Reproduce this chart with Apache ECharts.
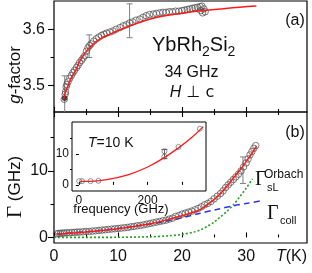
<!DOCTYPE html>
<html><head><meta charset="utf-8">
<script src="https://cdn.jsdelivr.net/npm/echarts@6/dist/echarts.min.js"></script>
<style>html,body{margin:0;padding:0;background:#fff}#c{width:312px;height:273px}</style>
</head><body><div id="c"></div>
<script>
// ---------- panel (a): g-factor vs T ----------
const gT   = [1.6,1.75,1.8,1.9,2.0,2.2,2.45,2.7,2.95,3.2,3.5,3.75,4.0,4.3,4.55,4.8,5.05,5.3,5.55,5.8,6.2,6.6,7.0,7.4,7.8,8.2,8.7,9.2,9.7,10.3,10.8,11.3,11.8,12.3,12.8,13.4,13.9,14.4,14.9,15.5,16.0,16.5,17.0,17.5,18.0,18.5,19.0,19.5,20.0,20.4,20.8,21.2,21.6,22.0,22.4,22.8,23.1,23.4,23.6,23.2,22.9];
const gVal = [3.476,3.485,3.489,3.498,3.502,3.507,3.513,3.518,3.523,3.527,3.532,3.536,3.541,3.545,3.549,3.553,3.561,3.567,3.571,3.574,3.579,3.583,3.586,3.589,3.591,3.593,3.595,3.597,3.600,3.603,3.606,3.608,3.611,3.613,3.616,3.618,3.621,3.624,3.626,3.627,3.628,3.629,3.630,3.630,3.631,3.631,3.632,3.632,3.633,3.634,3.635,3.636,3.637,3.638,3.639,3.640,3.641,3.636,3.631,3.629,3.633];
const gDarkT = [1.65];
const gDarkVal = [3.478];
const gFitT   = [1.5,2.0,2.7,3.5,4.0,5.0,5.6,7.1,8.7,10.3,12.3,14.4,16.5,19.0,21.0,23.3,26.0,29.0,31.6];
const gFitVal = [3.476,3.495,3.514,3.530,3.543,3.560,3.568,3.582,3.591,3.599,3.608,3.616,3.622,3.627,3.630,3.633,3.636,3.639,3.641];
const gErrT   = [1.67,5.5,11.8];
const gErrVal = [3.4775,3.570,3.615];
const gErrBar = [0.04,0.02,0.03];

// ---------- panel (b): linewidth vs T ----------
const wT   = [0.4,0.7,1.0,1.3,1.6,2.0,2.4,2.8,3.2,3.6,4.0,4.5,5.0,5.5,6.0,6.5,7.0,7.5,8.0,8.5,9.0,9.5,10.0,10.5,11.0,11.5,12.0,12.5,13.0,13.5,14.0,14.5,15.0,15.5,16.0,16.5,17.0,17.5,18.0,18.5,19.0,19.5,20.0,20.5,21.0,21.5,22.0,22.5,23.0,23.5,24.0,24.5,25.0,25.5,26.0,26.4,26.8,27.2,27.6,28.0,28.4,28.8,29.2,29.6,30.0,30.3,30.6,30.9,31.2,31.5];
const wVal = [0.55,0.6,0.6,0.65,0.65,0.7,0.7,0.75,0.75,0.8,0.8,0.85,0.9,0.9,0.95,1.0,1.05,1.1,1.15,1.2,1.25,1.3,1.35,1.4,1.45,1.5,1.6,1.65,1.75,1.8,1.9,2.0,2.1,2.2,2.3,2.4,2.5,2.6,2.75,2.9,3.15,3.3,3.5,3.65,3.8,3.95,4.15,4.35,4.6,4.9,5.1,5.4,5.8,6.2,6.6,7.0,7.5,7.9,8.3,8.7,9.1,9.5,10.0,10.6,11.2,11.8,12.4,12.9,13.4,13.8];
const wFitT   = [0.4,5,10,15,18,20,22,23,24,25,26,27,28,29,30,31,31.6];
const wFitVal = [0.45,0.8,1.3,2.05,2.75,3.25,3.85,4.3,4.95,5.7,6.6,7.7,8.9,10.1,11.4,12.8,13.7];
const collT   = [0.4,5,10,15,17,20,22.5,25.4,28,30,32.7];
const collVal = [0.5,0.85,1.35,2.0,2.35,2.95,3.55,4.2,4.75,5.1,5.55];
const orbT    = [0,5,10,15,18,20,22,23,24,25,26,27,28,29,30,31];
const orbVal  = [0,0,0.02,0.1,0.25,0.45,0.85,1.2,1.7,2.3,3.1,3.9,4.9,6.1,7.4,8.8];
const wErrT   = [29.5];
const wErrVal = [10.1];
const wErrBar = [2.0];

// ---------- inset: linewidth vs frequency at T=10 K ----------
const fFreq  = [1,9.4,34,57,249,249,290,352];
const fWidth = [1.2,1.2,1.2,1.3,9.2,10.9,12.3,18.2];
const fFitF  = [4,30,60,100,145,200,245,290,330,362];
const fFitW  = [1.1,1.15,1.4,2.1,3.3,5.8,8.6,12.0,15.5,18.9];
const fErrF  = [249];
const fErrW  = [10.0];
const fErrBar= [1.5];

// ---------- ticks / labels ----------
const tMajor = [0,10,20,30];
const tMinor = [5,15,25,35];
const gMajor = [3.5,3.6];
const gMinor = [3.55];
const wMajor = [0,10];
const wMinor = [5,15];
const fTicks = [0,100,200,300];
const fLabels = [0,200];
const fwMajor = [0,10];
const fwMinor = [5,15];

const SANS = 'Liberation Sans';
const SERIF = 'Liberation Serif';
const zip = (a,b) => a.map((v,i)=>[v,b[i]]);
const zip3 = (a,b,c) => a.map((v,i)=>[v,b[i],c[i]]);

function ax(grid, pos, min, max, ticks, len, inside, labels, lab) {
  return {
    type:'value', gridIndex:grid, position:pos, min:min, max:max,
    axisLine:{show:false}, splitLine:{show:false},
    axisTick:{show:true, customValues:ticks, inside:inside, length:len, lineStyle:{color:'#000', width:1.1}},
    axisLabel: labels ? Object.assign({show:true, customValues:labels, color:'#111', fontFamily:SANS, fontSize:16, margin:6}, lab||{}) : {show:false}
  };
}

function errBar(color) {
  return function(params, api) {
    const x = api.value(0), y = api.value(1), e = api.value(2);
    const t = api.coord([x, y + e]), b = api.coord([x, y - e]);
    const w = 3;
    const st = {stroke: color, lineWidth: 1};
    return {type:'group', children:[
      {type:'line', shape:{x1:t[0], y1:t[1], x2:b[0], y2:b[1]}, style:st},
      {type:'line', shape:{x1:t[0]-w, y1:t[1], x2:t[0]+w, y2:t[1]}, style:st},
      {type:'line', shape:{x1:b[0]-w, y1:b[1], x2:b[0]+w, y2:b[1]}, style:st}
    ]};
  };
}

const circ = {color:'rgba(255,255,255,0)', borderColor:'#4a4a4a', borderWidth:0.9};

const option = {
  animation:false,
  backgroundColor:'#fff',
  grid:[
    {left:54, top:1, width:253, height:111, show:true, borderColor:'#000', borderWidth:1.2, backgroundColor:'transparent'},
    {left:54, top:112, width:253, height:131, show:true, borderColor:'#000', borderWidth:1.2, backgroundColor:'transparent'},
    {left:72, top:122, width:134, height:69, show:true, borderColor:'#000', borderWidth:1, backgroundColor:'#fff'}
  ],
  xAxis:[
    ax(0,'bottom',0,39.5,tMajor,5,true,null),
    ax(0,'bottom',0,39.5,tMinor,3,true,null),
    ax(1,'bottom',0,39.5,tMajor,5,true,tMajor,{margin:6}),
    ax(1,'bottom',0,39.5,tMinor,3,true,null),
    ax(1,'top',0,39.5,tMajor,5,true,null),
    ax(1,'top',0,39.5,tMinor,3,true,null),
    ax(2,'bottom',-20,370,fTicks,3,true,fLabels,{fontSize:12, margin:4})
  ],
  yAxis:[
    ax(0,'left',3.4535,3.65,gMajor,6,false,gMajor,{margin:9, formatter:v=>Number(v).toFixed(1)}),
    ax(0,'left',3.4535,3.65,gMinor,3.5,false,null),
    ax(1,'left',-0.84,18.85,wMajor,6,false,wMajor,{margin:6}),
    ax(1,'left',-0.84,18.85,wMinor,3.5,false,null),
    ax(2,'left',-2,20.4,fwMajor,3,false,fwMajor,{fontSize:12, margin:3}),
    ax(2,'left',-2,20.4,fwMinor,2,false,null)
  ],
  series:[
    {type:'custom', xAxisIndex:0, yAxisIndex:0, renderItem:errBar('#808080'), data:zip3(gErrT,gErrVal,gErrBar), clip:true, z:1},
    {type:'scatter', xAxisIndex:0, yAxisIndex:0, symbol:'circle', symbolSize:6.5, itemStyle:circ, data:zip(gT,gVal), z:2},
    {type:'scatter', xAxisIndex:0, yAxisIndex:0, symbol:'circle', symbolSize:5.5, itemStyle:{color:'#222'}, data:zip(gDarkT,gDarkVal), z:2},
    {type:'line', xAxisIndex:0, yAxisIndex:0, smooth:0.4, symbol:'none', lineStyle:{color:'#ff1a1a', width:1.5}, data:zip(gFitT,gFitVal), z:3},

    {type:'line', xAxisIndex:2, yAxisIndex:2, smooth:0.3, symbol:'none', lineStyle:{color:'#2a36e8', width:1.5, type:[6,4]}, data:zip(collT,collVal), z:2},
    {type:'line', xAxisIndex:2, yAxisIndex:2, smooth:0.3, symbol:'none', lineStyle:{color:'#22a022', width:1.6, type:[2,2]}, data:zip(orbT,orbVal), z:2},
    {type:'custom', xAxisIndex:2, yAxisIndex:2, renderItem:errBar('#808080'), data:zip3(wErrT,wErrVal,wErrBar), clip:true, z:1},
    {type:'scatter', xAxisIndex:2, yAxisIndex:2, symbol:'circle', symbolSize:6.5, itemStyle:circ, data:zip(wT,wVal), z:3},
    {type:'line', xAxisIndex:2, yAxisIndex:2, smooth:0.3, symbol:'none', lineStyle:{color:'#ff1a1a', width:1.5}, data:zip(wFitT,wFitVal), z:4},

    {type:'custom', xAxisIndex:6, yAxisIndex:4, renderItem:errBar('#606060'), data:zip3(fErrF,fErrW,fErrBar), clip:true, z:5},
    {type:'line', xAxisIndex:6, yAxisIndex:4, smooth:0.4, symbol:'none', lineStyle:{color:'#ff1a1a', width:1.3}, data:zip(fFitF,fFitW), z:5},
    {type:'scatter', xAxisIndex:6, yAxisIndex:4, symbol:'circle', symbolSize:5, itemStyle:{color:'rgba(255,255,255,0)', borderColor:'#555', borderWidth:0.8}, data:zip(fFreq,fWidth), z:6}
  ],
  graphic:[
    {type:'text', x:15, y:75, rotation:Math.PI/2, style:{text:'{i|g}{n|-factor}', align:'center', verticalAlign:'middle',
      rich:{i:{fontSize:17, fontFamily:SANS, fontStyle:'italic', fill:'#111'}, n:{fontSize:17, fontFamily:SANS, fill:'#111'}}}},
    {type:'text', x:15, y:187, rotation:Math.PI/2, style:{text:'{G|Γ}{n| (GHz)}', align:'center', verticalAlign:'middle',
      rich:{G:{fontSize:21, fontFamily:SERIF, fill:'#111'}, n:{fontSize:17, fontFamily:SANS, fill:'#111'}}}},
    {type:'text', x:295, y:21, style:{text:'(a)', fontSize:16, fontFamily:SANS, fill:'#111', align:'center', verticalAlign:'middle'}},
    {type:'text', x:295, y:133, style:{text:'(b)', fontSize:16, fontFamily:SANS, fill:'#111', align:'center', verticalAlign:'middle'}},
    {type:'text', x:152, y:45, style:{text:'{m|YbRh}{s|2}{m|Si}{s|2}', align:'left', verticalAlign:'middle',
      rich:{m:{fontSize:20, fontFamily:SANS, fill:'#111', lineHeight:28, verticalAlign:'middle'}, s:{fontSize:14, fontFamily:SANS, fill:'#111', lineHeight:14, verticalAlign:'bottom'}}}},
    {type:'text', x:191.5, y:73, style:{text:'34 GHz', fontSize:16, fontFamily:SANS, fill:'#111', align:'center', verticalAlign:'middle'}},
    {type:'text', x:192, y:92.5, style:{text:'{i|H}{n| ⊥ c}', align:'center', verticalAlign:'middle',
      rich:{i:{fontSize:16, fontFamily:SANS, fontStyle:'italic', fill:'#111'}, n:{fontSize:16, fontFamily:'DejaVu Sans', fill:'#111'}}}},
    {type:'text', x:255, y:180, style:{text:'Γ', fontSize:20, fontFamily:SERIF, fill:'#111', align:'left', verticalAlign:'middle'}},
    {type:'text', x:264, y:175, style:{text:'Orbach', fontSize:12, fontFamily:SANS, fill:'#111', align:'left', verticalAlign:'middle'}},
    {type:'text', x:267, y:188, style:{text:'sL', fontSize:11, fontFamily:SANS, fill:'#111', align:'left', verticalAlign:'middle'}},
    {type:'text', x:267, y:214, style:{text:'Γ', fontSize:20, fontFamily:SERIF, fill:'#111', align:'left', verticalAlign:'middle'}},
    {type:'text', x:280, y:221, style:{text:'coll', fontSize:11, fontFamily:SANS, fill:'#111', align:'left', verticalAlign:'middle'}},
    {type:'text', x:276, y:257, style:{text:'{i|T}{n|(K)}', align:'left', verticalAlign:'middle',
      rich:{i:{fontSize:16, fontFamily:SANS, fontStyle:'italic', fill:'#111'}, n:{fontSize:16, fontFamily:SANS, fill:'#111'}}}},
    {type:'text', x:88, y:143, z:10, style:{text:'{i|T}{n|=10 K}', align:'left', verticalAlign:'middle',
      rich:{i:{fontSize:14, fontFamily:SANS, fontStyle:'italic', fill:'#111'}, n:{fontSize:14, fontFamily:SANS, fill:'#111'}}}},
    {type:'text', x:121, y:209, z:10, style:{text:'frequency (GHz)', fontSize:13, fontFamily:SANS, fill:'#111', align:'center', verticalAlign:'middle'}}
  ]
};
const chart = echarts.init(document.getElementById('c'), null, {renderer:'canvas'});
chart.setOption(option);
</script>
</body></html>
